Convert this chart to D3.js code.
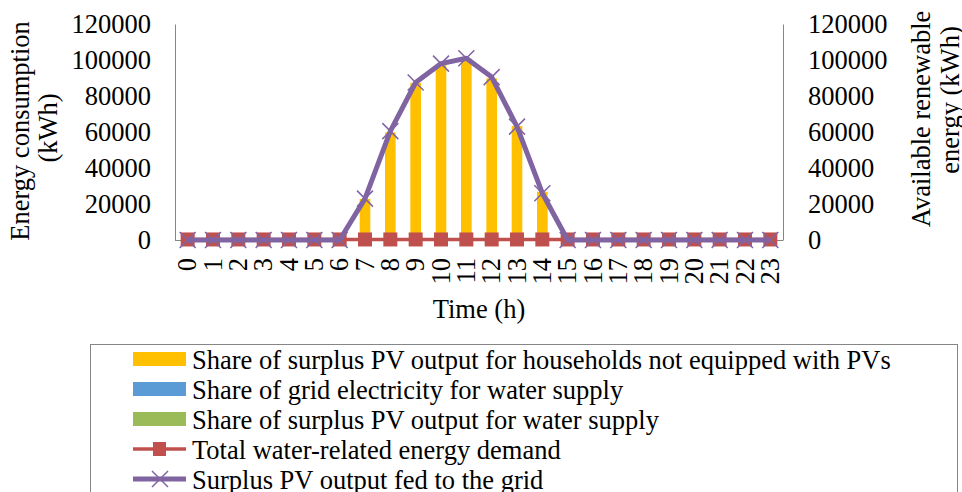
<!DOCTYPE html>
<html>
  <head>
    <meta charset="utf-8">
    <title>surplus pv chart</title>
    <script src="https://d3js.org/d3.v7.min.js"></script>
    <style>
      body { margin: 0; background: #fff; }
    </style>
  </head>
  <body>
  	<script>
  	// Data
  		var hours = d3.range(0, 24);
  		var householdShare = [0, 0, 0, 0, 0, 0, 0, 22500, 59500, 87000, 97000, 100500, 89500, 63000, 26500, 0, 0, 0, 0, 0, 0, 0, 0, 0];
  		var gridWater = [0, 0, 0, 0, 0, 0, 0, 0, 0, 0, 0, 0, 0, 0, 0, 0, 0, 0, 0, 0, 0, 0, 0, 0];
  		var pvWater = [0, 0, 0, 0, 0, 0, 0, 300, 300, 300, 300, 300, 300, 300, 300, 0, 0, 0, 0, 0, 0, 0, 0, 0];
  		var waterDemand = [300, 300, 300, 300, 300, 300, 300, 300, 300, 300, 300, 300, 300, 300, 300, 300, 300, 300, 300, 300, 300, 300, 300, 300];
  		var surplusGrid = [0, 0, 0, 0, 0, 0, 0, 23000, 60500, 87500, 98000, 101000, 90500, 63000, 26000, 0, 0, 0, 0, 0, 0, 0, 0, 0];
  		var yTicks = [0, 20000, 40000, 60000, 80000, 100000, 120000];
  		var legendLabels = [
  			"Share of surplus PV output for households not equipped with PVs",
  			"Share of grid electricity for water supply",
  			"Share of surplus PV output for water supply",
  			"Total water-related energy demand",
  			"Surplus PV output fed to the grid"
  		];

  	// Basic setting
  		var width = 962, height = 492;
  		var plot = {left: 175, right: 783, top: 24, bottom: 240};
  		var font = "'Liberation Serif', 'Times New Roman', 'DejaVu Serif', serif";
  		var fs = 26.5;
  		var colors = {house: "#FFC000", grid: "#5B9BD5", pv: "#9BBB59", demand: "#C0504D", surplus: "#8064A2"};

  		var x = d3.scaleBand().domain(hours).range([plot.left, plot.right]).paddingInner(0.58).paddingOuter(0.29);
  		var xc = function(h) { return x(h) + x.bandwidth() / 2; };
  		var y = d3.scaleLinear().domain([0, 120000]).range([plot.bottom, plot.top]);
  		var y2 = d3.scaleLinear().domain([0, 120000]).range([plot.bottom, plot.top]);

  		var svg = d3.select("body").append("svg")
  			.attr("width", width)
  			.attr("height", height);

  	// axes
  		var yAxis = svg.append("g")
  			.attr("transform", "translate(" + plot.left + ",0)")
  			.call(d3.axisLeft(y).tickValues(yTicks).tickSize(0).tickPadding(24).tickFormat(d3.format("d")));
  		var y2Axis = svg.append("g")
  			.attr("transform", "translate(" + plot.right + ",0)")
  			.call(d3.axisRight(y2).tickValues(yTicks).tickSize(0).tickPadding(25).tickFormat(d3.format("d")));
  		[yAxis, y2Axis].forEach(function(a) {
  			a.select(".domain").attr("stroke", "#868686");
  			a.selectAll("text").style("font-family", font).style("font-size", fs + "px").attr("fill", "#000");
  		});

  		svg.append("line")
  			.attr("x1", plot.left).attr("x2", plot.right)
  			.attr("y1", plot.bottom + 0.5).attr("y2", plot.bottom + 0.5)
  			.attr("stroke", "#868686");

  		var xAxis = svg.append("g")
  			.attr("transform", "translate(0," + plot.bottom + ")")
  			.call(d3.axisBottom(x).tickSize(0).tickPadding(0));
  		xAxis.select(".domain").remove();
  		xAxis.selectAll("text")
  			.style("font-family", font)
  			.style("font-size", fs + "px")
  			.attr("fill", "#000")
  			.attr("text-anchor", "end")
  			.attr("dy", null)
  			.attr("y", 0)
  			.attr("transform", "translate(8.5,18) rotate(-90)");

  	// stacked bars
  		var stackData = hours.map(function(h, i) { return {h: h, house: householdShare[i], grid: gridWater[i], pv: pvWater[i]}; });
  		var stack = d3.stack().keys(["pv", "grid", "house"])(stackData);
  		svg.append("g").selectAll("g")
  			.data(stack)
  			.enter().append("g")
  			.attr("fill", function(s) { return colors[s.key]; })
  			.selectAll("rect")
  			.data(function(s) { return s; })
  			.enter().append("rect")
  			.attr("x", function(d) { return x(d.data.h); })
  			.attr("width", x.bandwidth())
  			.attr("y", function(d) { return y(d[1]); })
  			.attr("height", function(d) { return y(d[0]) - y(d[1]); });

  	// demand line with squares
  		var lineDemand = d3.line().x(function(d, i) { return xc(hours[i]); }).y(function(d) { return y(d); });
  		svg.append("path")
  			.attr("d", lineDemand(waterDemand))
  			.attr("fill", "none")
  			.attr("stroke", colors.demand)
  			.attr("stroke-width", 3.5);
  		svg.append("g").selectAll("rect")
  			.data(waterDemand)
  			.enter().append("rect")
  			.attr("x", function(d, i) { return xc(hours[i]) - 7; })
  			.attr("y", function(d) { return y(d) - 7; })
  			.attr("width", 14)
  			.attr("height", 14)
  			.attr("fill", colors.demand);

  	// surplus line with x markers
  		var lineSurplus = d3.line().x(function(d, i) { return xc(hours[i]); }).y(function(d) { return y2(d); });
  		svg.append("path")
  			.attr("d", lineSurplus(surplusGrid))
  			.attr("fill", "none")
  			.attr("stroke", colors.surplus)
  			.attr("stroke-width", 5)
  			.attr("stroke-linejoin", "round");
  		svg.append("g").selectAll("path")
  			.data(surplusGrid)
  			.enter().append("path")
  			.attr("d", function(d, i) {
  				var cx = xc(hours[i]), cy = y2(d), r = 8;
  				return "M" + (cx - r) + "," + (cy - r) + "L" + (cx + r) + "," + (cy + r) +
  					"M" + (cx - r) + "," + (cy + r) + "L" + (cx + r) + "," + (cy - r);
  			})
  			.attr("stroke", colors.surplus)
  			.attr("stroke-width", 1.5)
  			.attr("fill", "none");

  	// axis titles
  		function title(tx, ty, rot, txt) {
  			svg.append("text")
  				.attr("transform", "translate(" + tx + "," + ty + ")" + (rot ? " rotate(-90)" : ""))
  				.attr("text-anchor", "middle")
  				.style("font-family", font)
  				.style("font-size", fs + "px")
  				.text(txt);
  		}
  		title(29, 131, true, "Energy consumption");
  		title(57, 128, true, "(kWh)");
  		title(930, 119, true, "Available renewable");
  		title(959, 100, true, "energy (kWh)");
  		title((plot.left + plot.right) / 2, 318, false, "Time (h)");

  	// legend
  		svg.append("rect")
  			.attr("x", 90.5).attr("y", 344.5)
  			.attr("width", 867).attr("height", 160)
  			.attr("fill", "none")
  			.attr("stroke", "#868686");
  		var keys = ["house", "grid", "pv", "demand", "surplus"];
  		var legend = svg.append("g").selectAll("g")
  			.data(legendLabels)
  			.enter().append("g")
  			.attr("transform", function(d, i) { return "translate(133," + (359 + i * 30) + ")"; });
  		legend.each(function(d, i) {
  			var g = d3.select(this);
  			var c = colors[keys[i]];
  			if (i < 3) {
  				g.append("rect").attr("x", 0).attr("y", -7).attr("width", 53).attr("height", 14).attr("fill", c);
  			} else {
  				g.append("line").attr("x1", 0).attr("x2", 53).attr("y1", 0).attr("y2", 0)
  					.attr("stroke", c).attr("stroke-width", i === 3 ? 3.5 : 5);
  				if (i === 3) {
  					g.append("rect").attr("x", 20).attr("y", -7).attr("width", 13).attr("height", 14).attr("fill", c);
  				} else {
  					g.append("path").attr("d", "M19,-8L35,8M19,8L35,-8").attr("stroke", c).attr("stroke-width", 1.5);
  				}
  			}
  			g.append("text").attr("x", 59).attr("y", 10)
  				.style("font-family", font).style("font-size", fs + "px")
  				.text(d);
  		});
  	</script>
  </body>
</html>
